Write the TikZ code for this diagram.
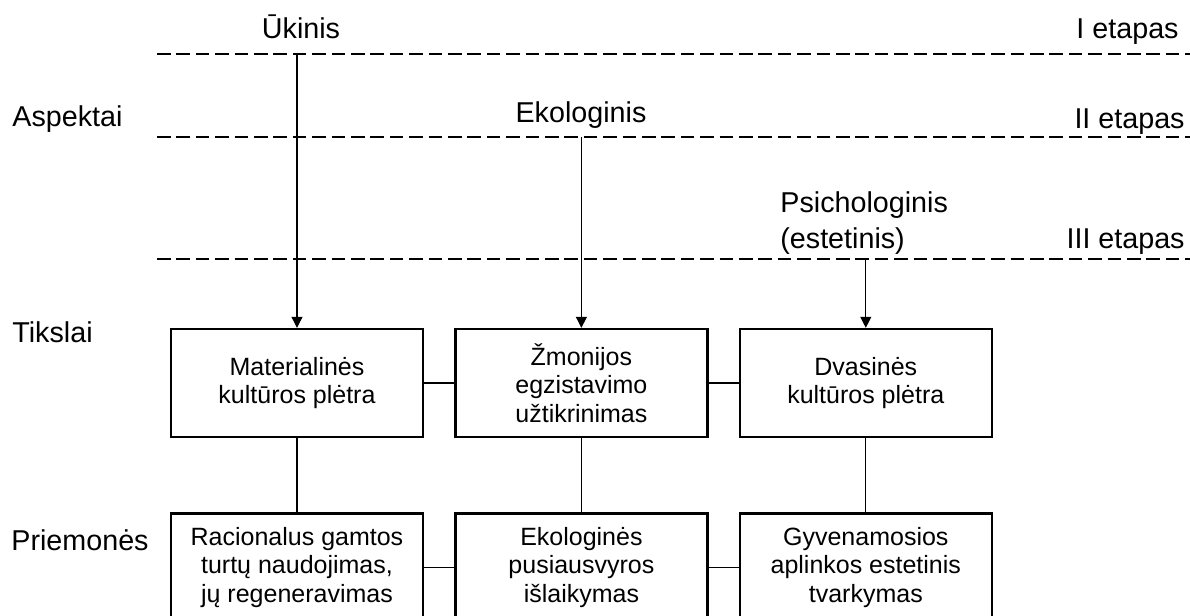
\documentclass[tikz,border=0pt]{standalone}
\usepackage{fontspec}
\setmainfont{Liberation Sans}
\usetikzlibrary{arrows.meta,positioning}

\begin{document}
\begin{tikzpicture}[x=0.5pt, y=-0.5pt,
            lab/.style = {inner sep=0pt, font=\fontsize{14.35}{18}\selectfont},
            goal/.style = {draw, line width=1.2pt, minimum width=126pt, minimum height=54pt,
                inner sep=0pt, align=center, font=\fontsize{12.5}{14.25}\selectfont},
            stage/.style = {line width=1.4pt, dash pattern=on 6.8pt off 2.9pt},
            link/.style = {line width=0.6pt},
            arr/.style = {link, -{Triangle[length=5.5pt,width=5.5pt]}}]
    \useasboundingbox (0,0) rectangle (1190,616);
    \coordinate (d1) at (157,54);
    \coordinate (d1e) at (1190,54);
    \coordinate (d2) at (157,137);
    \coordinate (d2e) at (1190,137);
    \coordinate (d3) at (157,259);
    \coordinate (d3e) at (1190,259);
    \draw[stage] (d1) -- (d1e);
    \draw[stage] (d2) -- (d2e);
    \draw[stage] (d3) -- (d3e);

    \node[lab, anchor=base] (ukinis) at (301,38) {Ūkinis};
    \node[lab, anchor=base] (ekol) at (581,122) {Ekologinis};
    \node[lab, anchor=north west, align=left] (psich) at (780,191) {Psichologinis\\(estetinis)};
    \node[lab, anchor=base east] (et1) at (1179,38) {I etapas};
    \node[lab, anchor=base east] (et2) at (1185,128) {II etapas};
    \node[lab, anchor=base east] (et3) at (1185,248) {III etapas};
    \node[lab, anchor=base west] (aspekt) at (12,126) {Aspektai};
    \node[lab, anchor=base west] (tiksl) at (12,342) {Tikslai};
    \node[lab, anchor=base west] (priem) at (11,550) {Priemonės};

    \node[goal] (mat) at (297,383) {Materialinės\\kultūros plėtra};
    \node[goal, right=15pt of mat] (zmon) {Žmonijos\\egzistavimo\\užtikrinimas};
    \node[goal, right=15pt of zmon] (dvas) {Dvasinės\\kultūros plėtra};
    \node[goal, below=37pt of mat] (rac) {Racionalus gamtos\\turtų naudojimas,\\jų regeneravimas};
    \node[goal, right=15pt of rac] (ekp) {Ekologinės\\pusiausvyros\\išlaikymas};
    \node[goal, right=15pt of ekp] (gyv) {Gyvenamosios\\aplinkos estetinis\\tvarkymas};

    \draw[arr] (mat |- d1) -- (mat.north);
    \draw[arr] (zmon |- d2) -- (zmon.north);
    \draw[arr] (dvas |- d3) -- (dvas.north);
    \draw[link] (mat) -- (zmon);
    \draw[link] (zmon) -- (dvas);
    \draw[link] (rac) -- (ekp);
    \draw[link] (ekp) -- (gyv);
    \draw[link] (mat) -- (rac);
    \draw[link] (zmon) -- (ekp);
    \draw[link] (dvas) -- (gyv);
\end{tikzpicture}
\end{document}
